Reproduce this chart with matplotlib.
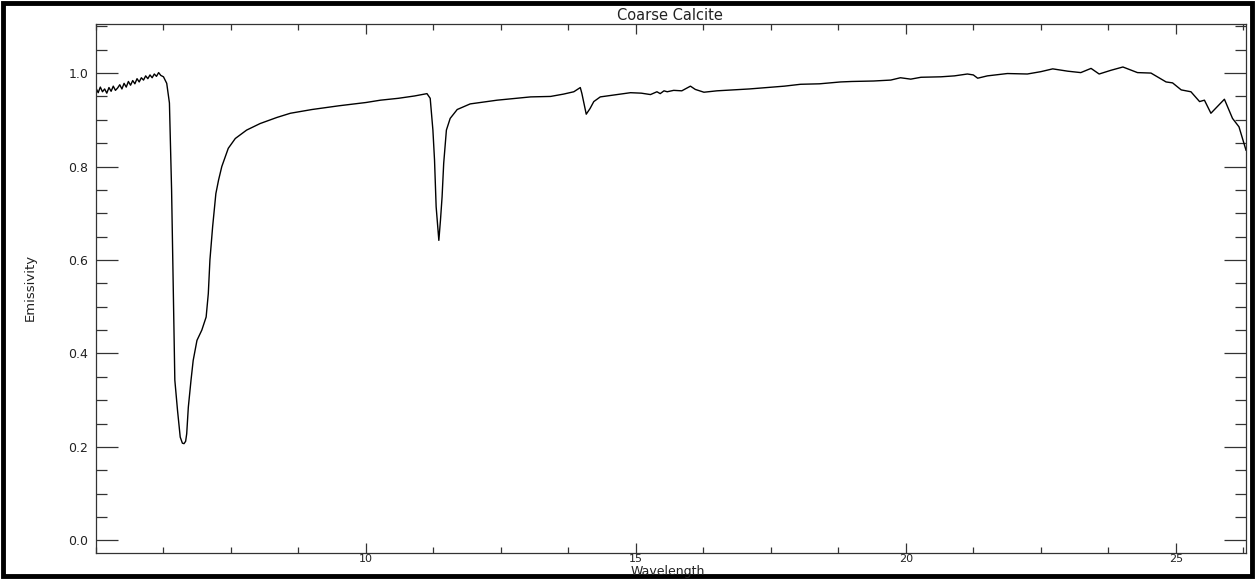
import matplotlib
matplotlib.use("Agg")
import matplotlib.pyplot as plt
from matplotlib.patches import Rectangle
from matplotlib.ticker import MultipleLocator, FixedLocator, FormatStrFormatter

# wavelength (micron) and emissivity
wavelength = [
    5.00, 5.04, 5.08, 5.12, 5.16, 5.20, 5.24, 5.28, 5.32, 5.36,
    5.40, 5.44, 5.48, 5.52, 5.56, 5.60, 5.64, 5.68, 5.72, 5.76,
    5.80, 5.84, 5.88, 5.92, 5.96, 6.00, 6.04, 6.08, 6.12, 6.16,
    6.20, 6.25, 6.31, 6.36, 6.40, 6.43, 6.46, 6.51, 6.56, 6.60,
    6.63, 6.66, 6.68, 6.71, 6.76, 6.80, 6.87, 6.96, 7.04, 7.08,
    7.11, 7.16, 7.22, 7.27, 7.33, 7.45, 7.58, 7.79, 8.04, 8.35,
    8.60, 9.00, 9.50, 10.00, 10.27, 10.60, 10.90, 11.13, 11.19, 11.24,
    11.27, 11.30, 11.35, 11.38, 11.41, 11.44, 11.49, 11.56, 11.69, 11.93,
    12.43, 13.05, 13.42, 13.66, 13.85, 13.97, 14.00, 14.05, 14.08, 14.15,
    14.22, 14.34, 14.59, 14.90, 15.10, 15.27, 15.39, 15.45, 15.52, 15.58,
    15.70, 15.85, 16.01, 16.10, 16.18, 16.26, 16.50, 16.81, 17.10, 17.43,
    17.75, 18.05, 18.40, 18.79, 19.00, 19.40, 19.72, 19.90, 20.09, 20.28,
    20.65, 20.90, 21.14, 21.25, 21.33, 21.51, 21.88, 22.25, 22.50, 22.72,
    23.00, 23.24, 23.43, 23.58, 23.80, 24.02, 24.29, 24.54, 24.82, 24.94,
    25.10, 25.28, 25.44, 25.53, 25.65, 25.90, 26.05, 26.17, 26.30,
]
emissivity = [
    0.968, 0.958, 0.970, 0.960, 0.966, 0.957, 0.969, 0.961, 0.972, 0.963,
    0.968, 0.975, 0.966, 0.978, 0.970, 0.982, 0.974, 0.984, 0.977, 0.988,
    0.981, 0.990, 0.985, 0.994, 0.988, 0.996, 0.990, 0.998, 0.993, 1.001,
    0.995, 0.992, 0.978, 0.936, 0.750, 0.542, 0.343, 0.278, 0.221, 0.208,
    0.207, 0.212, 0.228, 0.285, 0.343, 0.385, 0.428, 0.450, 0.478, 0.528,
    0.600, 0.671, 0.742, 0.771, 0.800, 0.839, 0.860, 0.878, 0.892, 0.905,
    0.914, 0.922, 0.930, 0.937, 0.942, 0.946, 0.951, 0.956, 0.946, 0.878,
    0.814, 0.714, 0.642, 0.685, 0.735, 0.807, 0.878, 0.903, 0.922, 0.934,
    0.942, 0.949, 0.950, 0.955, 0.960, 0.969, 0.956, 0.928, 0.912, 0.924,
    0.939, 0.949, 0.953, 0.958, 0.957, 0.954, 0.960, 0.956, 0.962, 0.960,
    0.963, 0.962, 0.972, 0.965, 0.962, 0.959, 0.962, 0.964, 0.966, 0.969,
    0.972, 0.976, 0.977, 0.981, 0.982, 0.983, 0.985, 0.990, 0.987, 0.991,
    0.992, 0.994, 0.998, 0.996, 0.989, 0.994, 0.999, 0.998, 1.003, 1.009,
    1.004, 1.001, 1.010, 0.998, 1.006, 1.013, 1.001, 1.000, 0.981, 0.979,
    0.964, 0.960, 0.939, 0.942, 0.914, 0.944, 0.903, 0.885, 0.835,
]

x_major = [10, 15, 20, 25]
title = "Coarse Calcite"
x_title = "Wavelength"
y_title = "Emissivity"

W, H = 1255, 579
fig = plt.figure(figsize=(W / 100, H / 100), dpi=100)
fig.patch.set_facecolor("white")

# plot frame in pixels: left 96, right 1246, top 24, bottom 553
ax = fig.add_axes([96 / W, 1 - 553 / H, (1246 - 96) / W, (553 - 24) / H])
ax.plot(wavelength, emissivity, color="black", lw=1.0)

ax.set_xlim(5.0, 26.3)
ax.set_ylim(-0.027, 1.105)

ax.xaxis.set_major_locator(FixedLocator(x_major))
ax.xaxis.set_minor_locator(MultipleLocator(1.25))
ax.yaxis.set_major_locator(MultipleLocator(0.2))
ax.yaxis.set_minor_locator(MultipleLocator(0.05))
ax.yaxis.set_major_formatter(FormatStrFormatter("%.1f"))

ax.tick_params(axis="both", which="both", direction="in", top=True, right=True,
               color="#333333", width=0.9, labelsize=9, labelcolor="#222222")
ax.tick_params(axis="x", which="major", length=7.2, pad=0.5, labelsize=8)
ax.tick_params(axis="x", which="minor", length=4.0)
ax.tick_params(axis="y", which="major", length=15.8, pad=5.5)
ax.tick_params(axis="y", which="minor", length=7.9)
for s in ax.spines.values():
    s.set_linewidth(0.9)
    s.set_color("#333333")

fig.text(670 / W, 1 - 15 / H, title, ha="center", va="center", fontsize=10.5, color="#222222")
fig.text(668 / W, 1 - 572 / H, x_title, ha="center", va="center", fontsize=9, color="#222222")
fig.text(30 / W, 1 - 287 / H, y_title, ha="center", va="center", rotation=90,
         fontsize=9.5, color="#222222")

# thick black border round the whole picture
fig.patches.append(Rectangle((3 / W, 3 / H), (W - 6) / W, (H - 6) / H,
                             transform=fig.transFigure, fill=False,
                             edgecolor="black", linewidth=3.5))

plt.savefig("out.png", dpi=100)
